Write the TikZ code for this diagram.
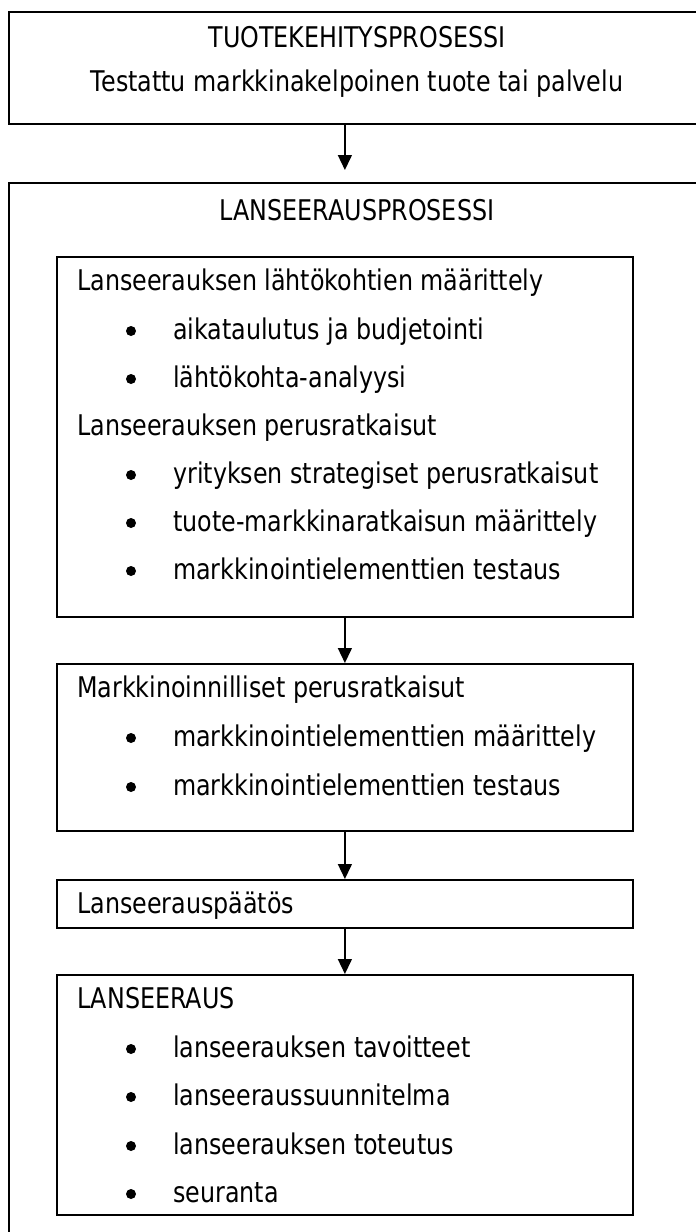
\documentclass[tikz,border=0pt]{standalone}
\usepackage{fontspec}
\setmainfont{DejaVu Sans}[FakeStretch=0.835]
\usetikzlibrary{arrows.meta}
\begin{document}
\begin{tikzpicture}[x=1pt,y=-1pt,
  box/.style={draw=black, line width=1.8pt, rectangle, inner sep=0pt, anchor=north west},
  arr/.style={draw=black, line width=1.4pt, -{Triangle[width=14pt,length=15pt]}},
  txt/.style={anchor=base west, inner sep=0pt, font=\fontsize{28.5}{34}\selectfont},
  ctxt/.style={anchor=base, inner sep=0pt, font=\fontsize{28.5}{34}\selectfont},
  dot/.style={circle, fill=black, inner sep=0pt, minimum size=10pt}]
\useasboundingbox (0,0) rectangle (696,1232);
\clip (0,0) rectangle (696,1232);

% frames
\node[box, minimum width=698pt, minimum height=112pt] (dev) at (8,11) {};
\node[box, minimum width=698pt, minimum height=1070pt] (launchproc) at (8,182) {};
\node[box, minimum width=576pt, minimum height=360pt] (basis) at (56,256) {};
\node[box, minimum width=576pt, minimum height=167pt] (mkt) at (56,663) {};
\node[box, minimum width=576pt, minimum height=48pt] (decision) at (56,879) {};
\node[box, minimum width=576pt, minimum height=240pt] (launch) at (56,974) {};

% titles
\node[ctxt] (devtitle) at (357,47) {TUOTEKEHITYSPROSESSI};
\node[ctxt] (devresult) at (357,91) {Testattu markkinakelpoinen tuote tai palvelu};
\node[ctxt] (proctitle) at (357,220) {LANSEERAUSPROSESSI};

% headings
\node[txt] (h1) at (77,290) {Lanseerauksen lähtökohtien määrittely};
\node[txt] (h2) at (77,435) {Lanseerauksen perusratkaisut};
\node[txt] (h3) at (77,697) {Markkinoinnilliset perusratkaisut};
\node[txt] (h4) at (77,913) {Lanseerauspäätös};
\node[txt] (h5) at (77,1008) {LANSEERAUS};

% bullet items
\foreach \y/\t [count=\i] in {
  339/aikataulutus ja budjetointi,
  387/lähtökohta-analyysi,
  483/yrityksen strategiset perusratkaisut,
  531/tuote-markkinaratkaisun määrittely,
  579/markkinointielementtien testaus,
  746/markkinointielementtien määrittely,
  795/markkinointielementtien testaus,
  1057/lanseerauksen tavoitteet,
  1105/lanseeraussuunnitelma,
  1154/lanseerauksen toteutus,
  1202/seuranta}
{
  \node[dot] (bd\i) at (131,\y-8) {};
  \node[txt] (bt\i) at (173,\y) {\t};
}

% flow
\draw[arr, shorten >=12pt] (dev.south -| basis.north) -- (launchproc.north -| basis.north);
\draw[arr] (basis.south) -- (mkt.north);
\draw[arr] (mkt.south) -- (decision.north);
\draw[arr] (decision.south) -- (launch.north);
\end{tikzpicture}
\end{document}
